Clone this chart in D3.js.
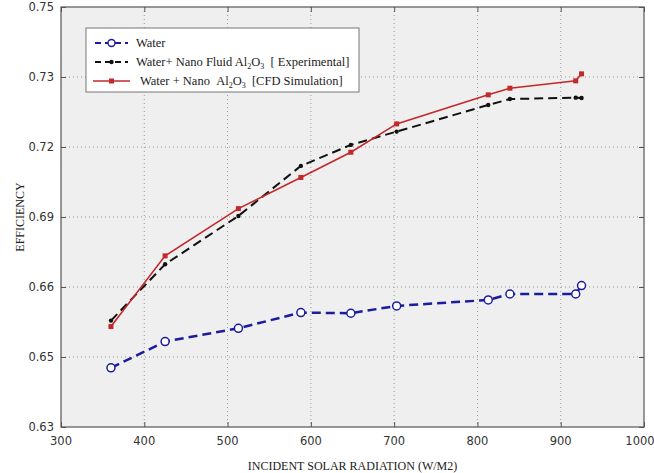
<!DOCTYPE html>
<html>
<head>
<meta charset="utf-8">
<script src="https://cdn.jsdelivr.net/npm/d3@7"></script>
<style>
  body { margin: 0; background: #fff; }
  svg { display: block; }
  .tick-label { font-family: "DejaVu Sans", sans-serif; font-size: 11.5px; fill: #333; }
  .serif { font-family: "Liberation Serif", "DejaVu Serif", serif; fill: #222; }
</style>
</head>
<body>
<svg id="chart" width="654" height="473"></svg>
<script>
// radiation (W/m2) for each measured point
const radiation = [360, 425, 513, 588, 648, 703, 813, 839, 918, 925];
const water = [0.6469, 0.6544, 0.6582, 0.6627, 0.6625, 0.6646, 0.6663, 0.668, 0.668, 0.6704];
const nanoExperimental = [0.6604, 0.6765, 0.6903, 0.7046, 0.7106, 0.7144, 0.722, 0.7237, 0.7241, 0.724];
const nanoCfd = [0.6587, 0.6789, 0.6924, 0.7013, 0.7085, 0.7166, 0.7249, 0.7268, 0.7289, 0.7309];

const xTicks = [300, 400, 500, 600, 700, 800, 900, 1000];
const yTicks = [0.63, 0.65, 0.67, 0.69, 0.71, 0.73, 0.75];
const yTickLabels = ['0.63', '0.65', '0.66', '0.69', '0.72', '0.73', '0.75'];

const margin = { left: 61, right: 10, top: 7, bottom: 46 };
const width = 654, height = 473;

const svg = d3.select('#chart');

const x = d3.scaleLinear().domain([300, 1000]).range([margin.left, width - margin.right]);
const y = d3.scaleLinear().domain([0.63, 0.75]).range([height - margin.bottom, margin.top]);

// plot background
svg.append('rect')
    .attr('x', x(300)).attr('y', y(0.75))
    .attr('width', x(1000) - x(300)).attr('height', y(0.63) - y(0.75))
    .attr('fill', '#efefef');

// dotted grid
const grid = svg.append('g').attr('stroke', '#999').attr('stroke-width', 1).attr('stroke-dasharray', '1,3');
grid.selectAll('.vg').data(xTicks.slice(1, -1)).join('line')
    .attr('x1', d => x(d)).attr('x2', d => x(d))
    .attr('y1', y(0.75)).attr('y2', y(0.63));
grid.selectAll('.hg').data(yTicks.slice(1, -1)).join('line')
    .attr('x1', x(300)).attr('x2', x(1000))
    .attr('y1', d => y(d)).attr('y2', d => y(d));

// axes, ticks pointing inward
const tickLen = 5;
svg.append('g')
    .attr('transform', `translate(0, ${y(0.63)})`)
    .call(d3.axisTop(x).tickValues(xTicks).tickSize(tickLen).tickFormat(''))
    .call(g => g.select('.domain').remove());
svg.append('g')
    .attr('transform', `translate(0, ${y(0.75)})`)
    .call(d3.axisBottom(x).tickValues(xTicks).tickSize(tickLen).tickFormat(''))
    .call(g => g.select('.domain').remove());
svg.append('g')
    .attr('transform', `translate(${x(300)}, 0)`)
    .call(d3.axisRight(y).tickValues(yTicks).tickSize(tickLen).tickFormat(''))
    .call(g => g.select('.domain').remove());
svg.append('g')
    .attr('transform', `translate(${x(1000)}, 0)`)
    .call(d3.axisLeft(y).tickValues(yTicks).tickSize(tickLen).tickFormat(''))
    .call(g => g.select('.domain').remove());
svg.selectAll('.tick line').attr('stroke', '#555');

svg.append('rect')
    .attr('x', x(300)).attr('y', y(0.75))
    .attr('width', x(1000) - x(300)).attr('height', y(0.63) - y(0.75))
    .attr('fill', 'none').attr('stroke', '#555').attr('stroke-width', 1.2);

// tick labels (last one pulled in a little so it stays on the page)
svg.selectAll('.xl').data(xTicks).join('text')
    .attr('class', 'tick-label')
    .attr('x', d => d === 1000 ? x(d) - 4 : x(d)).attr('y', y(0.63) + 18)
    .attr('text-anchor', 'middle')
    .text(d => d);
svg.selectAll('.yl').data(yTicks).join('text')
    .attr('class', 'tick-label')
    .attr('x', x(300) - 7).attr('y', d => y(d) + 4)
    .attr('text-anchor', 'end')
    .text((d, i) => yTickLabels[i]);

// axis titles
svg.append('text').attr('class', 'serif')
    .attr('x', (x(300) + x(1000)) / 2).attr('y', 470)
    .attr('text-anchor', 'middle').style('font-size', '12px')
    .text('INCIDENT SOLAR RADIATION (W/M2)');
svg.append('text').attr('class', 'serif')
    .attr('transform', `translate(24, ${(y(0.63) + y(0.75)) / 2}) rotate(-90)`)
    .attr('text-anchor', 'middle').style('font-size', '12px')
    .text('EFFICIENCY');

const pts = vals => vals.map((v, i) => [radiation[i], v]);
const line = d3.line().x(d => x(d[0])).y(d => y(d[1]));

// water
svg.append('path').datum(pts(water))
    .attr('d', line).attr('fill', 'none')
    .attr('stroke', '#1c1c9e').attr('stroke-width', 2.5).attr('stroke-dasharray', '9,5');
svg.selectAll('.wm').data(pts(water)).join('circle')
    .attr('cx', d => x(d[0])).attr('cy', d => y(d[1])).attr('r', 4)
    .attr('fill', '#fff').attr('stroke', '#1c1c9e').attr('stroke-width', 1.5);

// experimental
svg.append('path').datum(pts(nanoExperimental))
    .attr('d', line).attr('fill', 'none')
    .attr('stroke', '#111').attr('stroke-width', 2).attr('stroke-dasharray', '9,5');
svg.selectAll('.em').data(pts(nanoExperimental)).join('circle')
    .attr('cx', d => x(d[0])).attr('cy', d => y(d[1])).attr('r', 2.2)
    .attr('fill', '#111');

// CFD
svg.append('path').datum(pts(nanoCfd))
    .attr('d', line).attr('fill', 'none')
    .attr('stroke', '#c3282b').attr('stroke-width', 1.6);
svg.selectAll('.cm').data(pts(nanoCfd)).join('rect')
    .attr('x', d => x(d[0]) - 2.5).attr('y', d => y(d[1]) - 2.5)
    .attr('width', 5).attr('height', 5).attr('fill', '#c3282b');

// legend
const legend = svg.append('g');
legend.append('rect')
    .attr('x', 86).attr('y', 28).attr('width', 273).attr('height', 64)
    .attr('fill', '#fff').attr('stroke', '#777');

const legendRows = [
  { y: 43, x0: 95, x1: 128, color: '#1c1c9e', dash: '6,4', width: 2.2 },
  { y: 62, x0: 95, x1: 128, color: '#111', dash: '6,4', width: 2 },
  { y: 81, x0: 93, x1: 130, color: '#c3282b', dash: null, width: 1.6 }
];
legendRows.forEach(r => {
  legend.append('line')
      .attr('x1', r.x0).attr('x2', r.x1).attr('y1', r.y).attr('y2', r.y)
      .attr('stroke', r.color).attr('stroke-width', r.width)
      .attr('stroke-dasharray', r.dash);
});
legend.append('circle').attr('cx', 111.5).attr('cy', 43).attr('r', 3.5)
    .attr('fill', '#fff').attr('stroke', '#1c1c9e').attr('stroke-width', 1.4);
legend.append('circle').attr('cx', 111.5).attr('cy', 62).attr('r', 2.2).attr('fill', '#111');
legend.append('rect').attr('x', 109).attr('y', 78.5).attr('width', 5).attr('height', 5).attr('fill', '#c3282b');

const nb = '\u00a0';
const lt = legend.append('g').attr('class', 'serif').style('font-size', '12.5px');
lt.append('text').attr('x', 136).attr('y', 47).text('Water');
const t2 = lt.append('text').attr('x', 136).attr('y', 66);
t2.append('tspan').text('Water+ Nano Fluid Al');
t2.append('tspan').attr('dy', 3).style('font-size', '8px').text('2');
t2.append('tspan').attr('dy', -3).text('O');
t2.append('tspan').attr('dy', 3).style('font-size', '8px').text('3');
t2.append('tspan').attr('dy', -3).text(nb + nb + '[ Experimental]');
const t3 = lt.append('text').attr('x', 140).attr('y', 85);
t3.append('tspan').text('Water + Nano' + nb + nb + 'Al');
t3.append('tspan').attr('dy', 3).style('font-size', '8px').text('2');
t3.append('tspan').attr('dy', -3).text('O');
t3.append('tspan').attr('dy', 3).style('font-size', '8px').text('3');
t3.append('tspan').attr('dy', -3).text(nb + nb + '[CFD Simulation]');
</script>
</body>
</html>
